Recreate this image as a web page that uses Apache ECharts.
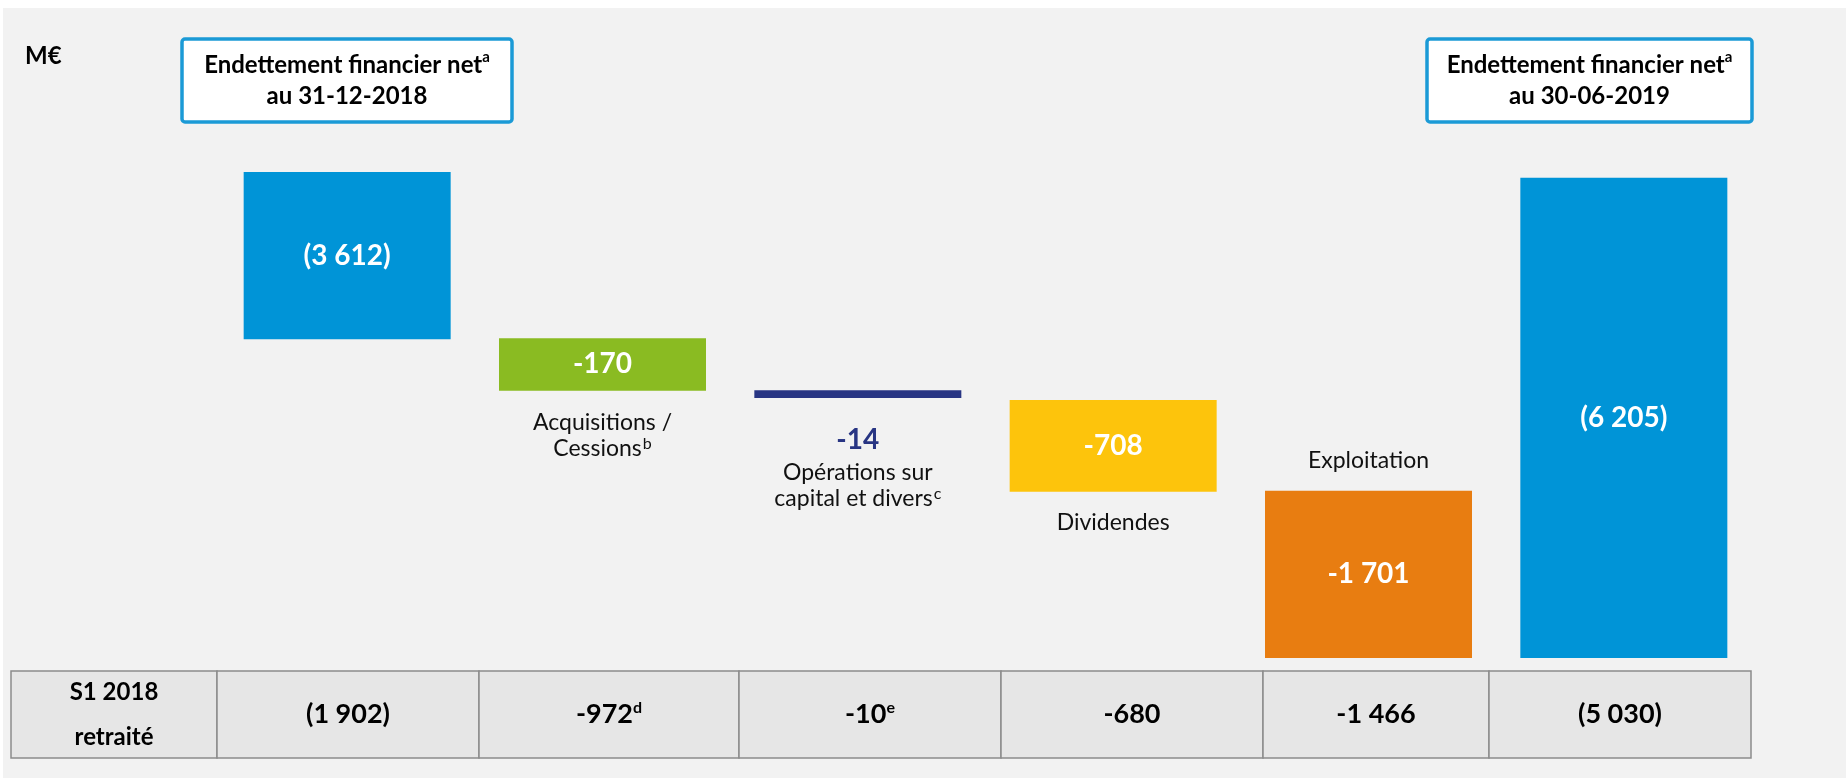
<!DOCTYPE html>
<html><head><meta charset="utf-8">
<script src="https://cdn.jsdelivr.net/npm/echarts@6/dist/echarts.min.js"></script>
<style>html,body{margin:0;padding:0;background:#fff}#c{width:1846px;height:778px}</style>
</head><body><div id="c"></div>
<script>
// ---- Data (M€) ----
const categories = ['Endettement 31-12-2018', 'Acquisitions / Cessions', 'Opérations sur capital et divers', 'Dividendes', 'Exploitation', 'Endettement 30-06-2019'];
const values = [-3612, -170, -14, -708, -1701, -6205];
const valueLabels = ['(3 612)', '-170', '-14', '-708', '-1 701', '(6 205)'];
// Bar extents as drawn on the (schematic, non-proportional) slide, 0 = top of plot, 100 = baseline
const drawnTop = [0, 34.2, 44.9, 46.9, 65.6, 1.2];
const drawnBottom = [34.4, 45.0, 46.5, 65.8, 100, 100];
const nameLines = [[], ['Acquisitions /', 'Cessions'], ['Opérations sur', 'capital et divers'], ['Dividendes'], ['Exploitation'], []];
const nameNotes = ['', 'b', 'c', '', '', ''];
const boxTitle = 'Endettement financier net';
const boxNote = 'a';
const boxDates = ['au 31-12-2018', 'au 30-06-2019'];
const tableHeader = ['S1 2018', 'retraité'];
const s1Labels = ['(1 902)', '-972', '-10', '-680', '-1 466', '(5 030)'];
const s1Notes = ['', 'd', 'e', '', '', ''];
const unitLabel = 'M€';

// ---- Styles ----
const FONT = 'Lato, "Open Sans", "Noto Sans", sans-serif';
const barColors = ['#0094D7', '#8ABB22', '#283583', '#FDC40C', '#E87D11', '#0094D7'];
const valueInside = [true, true, false, true, true, true];
const nameBelow = [false, true, true, true, false, false];
const nameAbove = [false, false, false, false, true, false];
const TRANSPARENT = 'rgba(0,0,0,0)';

const richName = {
  t: { fontFamily: FONT, fontSize: 23, color: '#111', lineHeight: 26 },
  sup: { fontFamily: FONT, fontSize: 16, color: '#111', lineHeight: 16, verticalAlign: 'top', padding: [0, 0, 0, 1] },
  num: { fontFamily: FONT, fontSize: 28, fontWeight: 'bold', color: '#283583', lineHeight: 40 }
};
function nameText(i, withValue) {
  const lines = nameLines[i].map((l, k) => '{t|' + l + '}' + (k === nameLines[i].length - 1 && nameNotes[i] ? '{sup|' + nameNotes[i] + '}' : ''));
  if (withValue) lines.unshift('{num|' + valueLabels[i] + '}');
  return lines.join('\n');
}

const baseData = drawnTop.map((v, i) => ({
  value: v,
  label: nameAbove[i] ? { show: true, position: 'insideBottom', distance: 17, formatter: nameText(i, false), rich: richName } : { show: false }
}));
const valueData = drawnTop.map((v, i) => ({
  value: +(drawnBottom[i] - v).toFixed(2),
  itemStyle: { color: barColors[i] },
  label: valueInside[i] ? { show: true, position: 'inside', formatter: valueLabels[i], fontFamily: FONT, fontSize: 28, fontWeight: 'bold', color: '#fff' } : { show: false }
}));
const restData = drawnBottom.map((v, i) => ({
  value: +(100 - v).toFixed(2),
  label: nameBelow[i] ? { show: true, position: 'insideTop', distance: i === 2 ? 22 : (i === 1 ? 19 : 18), formatter: nameText(i, !valueInside[i]), rich: richName } : { show: false }
}));

// ---- Table & boxes (graphic annotations) ----
const colEdges = [11, 217, 479, 739, 1001, 1263, 1489, 1751];
const tableTop = 671, tableH = 87;
const graphics = [
  { type: 'rect', shape: { x: 0, y: 0, width: 1846, height: 8 }, style: { fill: '#fff' }, silent: true },
  { type: 'rect', shape: { x: 0, y: 0, width: 3, height: 778 }, style: { fill: '#fff' }, silent: true },
  { type: 'text', x: 25, y: 56, style: { text: unitLabel, font: 'bold 24px ' + FONT, fill: '#000', verticalAlign: 'middle' } }
];
const boxes = [{ x: 182, w: 330 }, { x: 1427, w: 325 }];
boxes.forEach((b, k) => {
  graphics.push({ type: 'rect', shape: { x: b.x, y: 39, width: b.w, height: 83, r: 3 }, style: { fill: '#fff', stroke: '#1B9AD6', lineWidth: 3.5 } });
  graphics.push({ type: 'text', x: b.x + b.w / 2, y: 81, style: {
    text: '{b|' + boxTitle + '}{s|' + boxNote + '}\n{b|' + boxDates[k] + '}',
    align: 'center', verticalAlign: 'middle',
    rich: {
      b: { fontFamily: FONT, fontSize: 24, fontWeight: 'bold', fill: '#000', color: '#000', lineHeight: 31 },
      s: { fontFamily: FONT, fontSize: 15, fontWeight: 'bold', fill: '#000', color: '#000', lineHeight: 15, verticalAlign: 'top' }
    }
  } });
});
for (let i = 0; i < colEdges.length - 1; i++) {
  graphics.push({ type: 'rect', shape: { x: colEdges[i], y: tableTop, width: colEdges[i + 1] - colEdges[i], height: tableH }, style: { fill: '#E6E6E6', stroke: '#8C8C8C', lineWidth: 1.5 } });
  const cx = (colEdges[i] + colEdges[i + 1]) / 2, cy = tableTop + tableH / 2;
  let txt;
  if (i === 0) txt = tableHeader.map(t => '{h|' + t + '}').join('\n');
  else txt = '{v|' + s1Labels[i - 1] + '}' + (s1Notes[i - 1] ? '{s|' + s1Notes[i - 1] + '}' : '');
  graphics.push({ type: 'text', x: cx, y: cy, style: {
    text: txt, align: 'center', verticalAlign: 'middle',
    rich: {
      h: { fontFamily: FONT, fontSize: 24, fontWeight: 'bold', color: '#000', fill: '#000', lineHeight: 45 },
      v: { fontFamily: FONT, fontSize: 27, fontWeight: 'bold', color: '#000', fill: '#000', lineHeight: 30 },
      s: { fontFamily: FONT, fontSize: 16, fontWeight: 'bold', color: '#000', fill: '#000', lineHeight: 16, verticalAlign: 'top' }
    }
  } });
}

const chart = echarts.init(document.getElementById('c'));
chart.setOption({
  backgroundColor: '#F2F2F2',
  animation: false,
  grid: { left: 219.5, right: 94.5, top: 172, bottom: 120 },
  xAxis: { type: 'category', data: categories, show: false },
  yAxis: { type: 'value', min: 0, max: 100, inverse: true, show: false },
  series: [
    { name: 'base', type: 'bar', stack: 'w', barWidth: 207, silent: true, itemStyle: { color: TRANSPARENT }, data: baseData },
    { name: 'flux', type: 'bar', stack: 'w', barWidth: 207, silent: true, data: valueData },
    { name: 'rest', type: 'bar', stack: 'w', barWidth: 207, silent: true, itemStyle: { color: TRANSPARENT }, data: restData }
  ],
  graphic: graphics
});
</script></body></html>
